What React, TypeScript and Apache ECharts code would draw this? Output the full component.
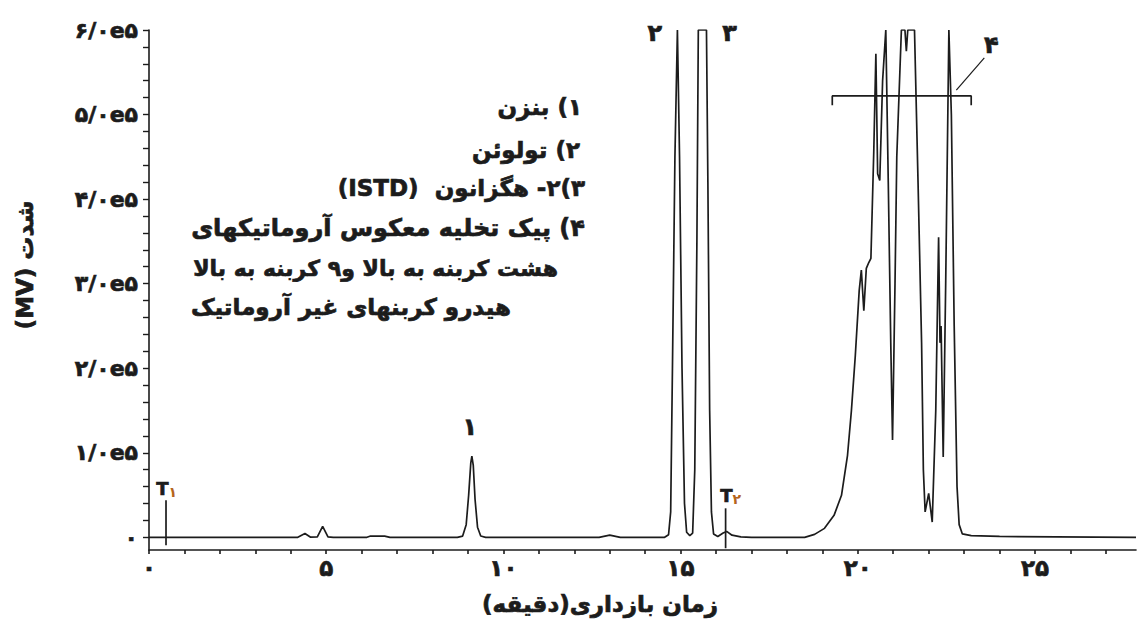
import React, { useEffect, useRef } from "react";
import * as echarts from "echarts";

// ---------- text helpers ----------
const RLE = "\u202B";
const PDF = "\u202C";
const rtl = (s: string) => RLE + s + PDF;

// ---------- axis ticks / labels ----------
const xTickLabelValues = [0, 5, 10, 15, 20, 25];
const xTickLabels = ["۰", "۵", "۱۰", "۱۵", "۲۰", "۲۵"];
const xMinorTickValues = [0, 1, 2, 3, 4, 5, 6, 7, 8, 9, 10, 11, 12, 13, 14, 15, 16, 17, 18, 19, 20, 21, 22, 23, 24, 25, 26, 27];
const yTickLabelValues = [0, 100000, 200000, 300000, 400000, 500000, 600000];
const yTickLabels = ["۰", "۱/۰e۵", "۲/۰e۵", "۳/۰e۵", "۴/۰e۵", "۵/۰e۵", "۶/۰e۵"];
const yMinorTickValues = [
  0, 20000, 40000, 60000, 80000, 100000, 120000, 140000, 160000, 180000, 200000,
  220000, 240000, 260000, 280000, 300000, 320000, 340000, 360000, 380000, 400000,
  420000, 440000, 460000, 480000, 500000, 520000, 540000, 560000, 580000, 600000,
];
const xAxisTitle = "زمان بازداری(دقیقه)";
const yAxisTitle = "شدت (MV)";

// ---------- chromatogram (retention time [min], signal [MV]) ----------
const earlyBaseline = [
  [0, 0], [4.2, 0], [4.4, 4500], [4.55, 300], [4.75, 600], [4.9, 13000], [5.05, 600],
  [5.2, 0], [6.15, 0], [6.25, 1500], [6.65, 1500], [6.8, 0],
];
const benzenePeak = [
  [8.7, 0], [8.85, 1500], [8.95, 15000], [9.02, 50000], [9.08, 88000], [9.11, 96000],
  [9.15, 85000], [9.2, 45000], [9.27, 12000], [9.36, 1500], [9.5, 0],
  [12.7, 0], [13.0, 2500], [13.3, 0], [14.55, 0],
];
const toluenePeak = [
  [14.66, 3000], [14.72, 30000], [14.77, 200000], [14.84, 450000], [14.91, 600000],
  [14.97, 450000], [15.04, 200000], [15.11, 40000], [15.17, 6000], [15.26, 2000],
];
const hexanonePeak = [
  [15.34, 5000], [15.4, 80000], [15.46, 350000], [15.5, 600000], [15.73, 600000],
  [15.77, 420000], [15.82, 150000], [15.87, 30000], [15.93, 4000], [16.05, 1000],
  [16.2, 5000], [16.3, 7000], [16.45, 2500], [16.7, 500], [17.0, 0], [18.5, 0],
];
const backflushGroup = [
  [18.78, 3500], [19.06, 10600], [19.33, 26000], [19.54, 49700], [19.71, 97000],
  [19.82, 150000], [19.93, 215000], [20.04, 292000], [20.1, 316000], [20.17, 268000],
  [20.24, 318000], [20.31, 325000], [20.37, 330000], [20.45, 455000], [20.51, 572000],
  [20.56, 430000], [20.62, 422000], [20.7, 540000], [20.79, 600000], [20.86, 420000],
  [20.93, 230000], [20.98, 115000], [21.05, 300000], [21.1, 450000], [21.23, 600000],
  [21.33, 600000], [21.37, 575000], [21.41, 600000], [21.6, 600000], [21.7, 420000],
  [21.8, 230000], [21.85, 80000], [21.9, 30000], [22.0, 52000], [22.1, 18000],
  [22.2, 150000], [22.28, 355000], [22.32, 230000], [22.35, 250000], [22.41, 95000],
  [22.48, 300000], [22.57, 600000], [22.64, 500000], [22.72, 250000], [22.8, 60000],
  [22.86, 15000], [22.95, 4000], [23.2, 2000], [24.0, 1000], [27.85, 0],
];

// ---------- annotations (data coordinates) ----------
const markerT1 = [[0.48, -9500], [0.48, 43800]];
const markerT2 = [[16.27, -13000], [16.27, 34300]];
const groupBracket = [[19.28, 511000], [19.28, 522000], [23.2, 522000], [23.2, 511000]];
const groupLeader = [[22.78, 529000], [23.57, 567000]];
const peakLabels = [
  { name: "۱", value: [9.05, 130000] },
  { name: "۲", value: [14.27, 596000] },
  { name: "۳", value: [16.38, 596000] },
  { name: "۴", value: [23.77, 582000] },
];
const markerLabels = [
  { name: "۱", value: [0.5, 58000] },
  { name: "۲", value: [16.41, 49700] },
];

// ---------- legend text ----------
const legendLines = [
  "۱) بنزن",
  "۲) تولوئن",
  "۳)۲- هگزانون  (ISTD)",
  "۴) پیک تخلیه معکوس آروماتیکهای",
  "هشت کربنه به بالا و۹ کربنه به بالا",
  "هیدرو کربنهای غیر آروماتیک",
];

const INK = "#1c1c1c";
const FONT = "'DejaVu Sans', sans-serif";
const HEAVY = { textBorderColor: INK, textBorderWidth: 0.7 };

export default function App() {
  const ref = useRef<HTMLDivElement>(null);

  useEffect(() => {
    document.body.style.margin = "0";
    if (!ref.current) return;
    const chart = echarts.init(ref.current, undefined, { renderer: "svg" });

    const trace = [
      ...earlyBaseline,
      ...benzenePeak,
      ...toluenePeak,
      ...hexanonePeak,
      ...backflushGroup,
    ];

    const legendRight = [582, 580, 585, 585, 558, 511];
    const legendY = [107, 150, 188, 228, 268, 307];
    const legendSize = [23, 23, 23, 24, 22, 23];

    const lineSeries = (data: number[][], z = 2) => ({
      type: "line",
      data,
      showSymbol: false,
      symbol: "none",
      clip: true,
      z,
      lineStyle: { color: INK, width: 1.7 },
      silent: true,
    });

    const labelSeries = (data: any[], label: any) => ({
      type: "line",
      data,
      symbol: "circle",
      symbolSize: 0,
      showSymbol: true,
      lineStyle: { width: 0, opacity: 0 },
      itemStyle: { color: INK, opacity: 1 },
      silent: true,
      z: 6,
      label: { show: true, position: "inside", ...label },
    });

    const option: any = {
      animation: false,
      backgroundColor: "#ffffff",
      grid: { left: 149, right: 1, top: 30, bottom: 73, containLabel: false },
      xAxis: {
        type: "value",
        min: 0,
        max: 27.85,
        axisLine: { show: true, onZero: false, lineStyle: { color: INK, width: 1.6 } },
        axisTick: {
          show: true,
          length: 4,
          customValues: xMinorTickValues,
          lineStyle: { color: INK, width: 1.6 },
        },
        axisLabel: {
          customValues: xTickLabelValues,
          formatter: (v: number) => {
            const i = xTickLabelValues.indexOf(v);
            return i >= 0 ? xTickLabels[i] : "";
          },
          margin: 6,
          fontSize: 23,
          fontWeight: "bold",
          color: INK,
          fontFamily: FONT,
          ...HEAVY,
        },
        splitLine: { show: false },
      },
      yAxis: {
        type: "value",
        min: -15000,
        max: 600000,
        axisLine: { show: true, onZero: false, lineStyle: { color: INK, width: 1.6 } },
        axisTick: {
          show: true,
          length: 6,
          customValues: yMinorTickValues,
          lineStyle: { color: INK, width: 1.4 },
        },
        axisLabel: {
          customValues: yTickLabelValues,
          formatter: (v: number) => {
            const i = yTickLabelValues.indexOf(v);
            return i >= 0 ? yTickLabels[i] : "";
          },
          margin: 11,
          fontSize: 22,
          fontWeight: "bold",
          color: INK,
          fontFamily: FONT,
          ...HEAVY,
        },
        splitLine: { show: false },
      },
      series: [
        lineSeries(trace, 3),
        lineSeries(markerT1),
        lineSeries(markerT2),
        lineSeries(groupBracket),
        { ...lineSeries(groupLeader), lineStyle: { color: INK, width: 1.2 } },
        labelSeries(peakLabels, {
          formatter: (p: any) => p.name,
          fontSize: 24,
          fontWeight: "bold",
          color: INK,
          fontFamily: FONT,
          ...HEAVY,
        }),
        labelSeries(markerLabels, {
          formatter: (p: any) => `{t|T}{s|${p.name}}`,
          rich: {
            t: { fontSize: 18, fontWeight: "bold", color: INK, fontFamily: FONT, ...HEAVY },
            s: { fontSize: 14, fontWeight: "bold", color: "#b5651d", fontFamily: FONT, padding: [8, 0, 0, 0] },
          },
        }),
      ],
      graphic: [
        ...legendLines.map((line, i) => ({
          type: "text",
          x: legendRight[i],
          y: legendY[i],
          style: {
            text: rtl(line),
            fill: INK,
            stroke: INK,
            lineWidth: 0.7,
            font: `bold ${legendSize[i]}px ${FONT}`,
            textAlign: "right",
            textVerticalAlign: "middle",
          },
        })),
        {
          type: "text",
          x: 600,
          y: 604,
          style: {
            text: rtl(xAxisTitle),
            fill: INK,
            stroke: INK,
            lineWidth: 0.7,
            font: `bold 23px ${FONT}`,
            textAlign: "center",
            textVerticalAlign: "middle",
          },
        },
        {
          type: "text",
          x: 25,
          y: 265,
          rotation: Math.PI / 2,
          style: {
            text: rtl(yAxisTitle),
            fill: INK,
            stroke: INK,
            lineWidth: 0.7,
            font: `bold 23px ${FONT}`,
            textAlign: "center",
            textVerticalAlign: "middle",
          },
        },
      ],
    };

    chart.setOption(option);
    return () => chart.dispose();
  }, []);

  return <div ref={ref} style={{ width: 1137, height: 623 }} />;
}
